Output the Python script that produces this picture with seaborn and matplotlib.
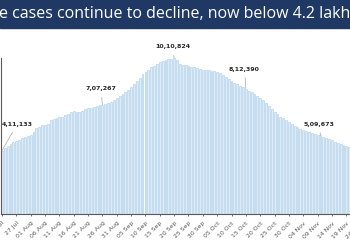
import seaborn as sns
import matplotlib.pyplot as plt
import pandas as pd

# active cases per day (22 Jul - 25 Nov)
start_date = '2020-07-22'
active_cases = [
    411133, 425000, 440000, 456000, 468000, 472000, 480000, 490000, 498000, 505000,
    512000, 530000, 556000, 566000, 574000, 579000, 586000, 607000, 615000, 620000,
    626000, 631000, 640000, 650000, 660000, 665000, 661000, 660000, 670000, 680000,
    686000, 689000, 694000, 700000, 704000, 707267, 710000, 718000, 725000, 738000,
    752000, 765000, 780000, 792000, 803000, 820000, 842000, 860000, 880000, 905000,
    918000, 935000, 950000, 962000, 975000, 985000, 994000, 1000000, 1004000, 1007000,
    1010824, 995000, 975000, 968000, 965000, 962000, 955000, 952000, 945000, 940000,
    936000, 932000, 930000, 928000, 924000, 918000, 912000, 903000, 890000, 876000,
    862000, 850000, 840000, 830000, 822000, 812390, 800000, 788000, 776000, 765000,
    752000, 740000, 720000, 700000, 680000, 660000, 645000, 630000, 620000, 608000,
    594000, 582000, 570000, 562000, 552000, 544000, 538000, 532000, 527000, 520000,
    514000, 509673, 497000, 492000, 486000, 478000, 466000, 458000, 452000, 445000,
    438000, 432000, 436000, 441000, 443000, 440000, 437000,
]
# annotated bars: index into active_cases, label text
callout_idx = [0, 35, 60, 85, 111]
callout_text = ['4,11,133', '7,07,267', '10,10,824', '8,12,390', '5,09,673']
title = 'e cases continue to decline, now below 4.2 lakh'

dates = pd.date_range(start_date, periods=len(active_cases))
df = pd.DataFrame({'date': dates.strftime('%d %b'), 'active': active_cases})

sns.set_style('white')
plt.rcParams['font.family'] = ['DejaVu Sans']

fig = plt.figure(figsize=(3.5, 2.5), dpi=100)
fig.patch.set_facecolor('white')

# title band
fig.patches.append(plt.Rectangle((0, 1 - 28 / 250), 1, 28 / 250, transform=fig.transFigure,
                                 color='#1f3864', zorder=0))
fig.text(-0.004, 1 - 14 / 250, title, color='white', fontsize=11.5, family='Open Sans',
         ha='left', va='center')

px = 2.87  # pixels per day
n = len(active_cases)
ax = fig.add_axes([0.5 / 350, 36 / 250, n * px / 350, 156 / 250])
sns.barplot(data=df, x='date', y='active', ax=ax, color='#dcebf7', saturation=1,
            width=0.65, edgecolor='#a8cbe8', linewidth=0.4)
ax.set_xlim(-0.5, n - 0.5)
ax.set_ylim(0, 1010824)
ax.set_xlabel('')
ax.set_ylabel('')
ax.set_yticks([])

ticks = list(range(0, n, 5))
ax.set_xticks(ticks)
ax.set_xticklabels(df['date'].iloc[ticks], rotation=45, ha='right', rotation_mode='anchor',
                   fontsize=4.4, color='#595959')
ax.tick_params(axis='x', direction='out', length=1.6, width=0.6, color='#595959', pad=3, bottom=True)

for s in ['top', 'right']:
    ax.spines[s].set_visible(False)
for s in ['left', 'bottom']:
    ax.spines[s].set_color('#595959')
    ax.spines[s].set_linewidth(0.8)

offsets = [(11, 19), (-1, 11.5), (-1, 8), (-1, 14), (-1, 8)]
for i, txt, off in zip(callout_idx, callout_text, offsets):
    ax.annotate(txt, xy=(i, active_cases[i]), xytext=off, textcoords='offset points',
                ha='center', va='center', fontsize=4.5, fontweight='bold', color='#262626',
                arrowprops=dict(arrowstyle='-', color='#a6a6a6', lw=0.5, shrinkA=2, shrinkB=0))

plt.savefig('out.png', dpi=100)
